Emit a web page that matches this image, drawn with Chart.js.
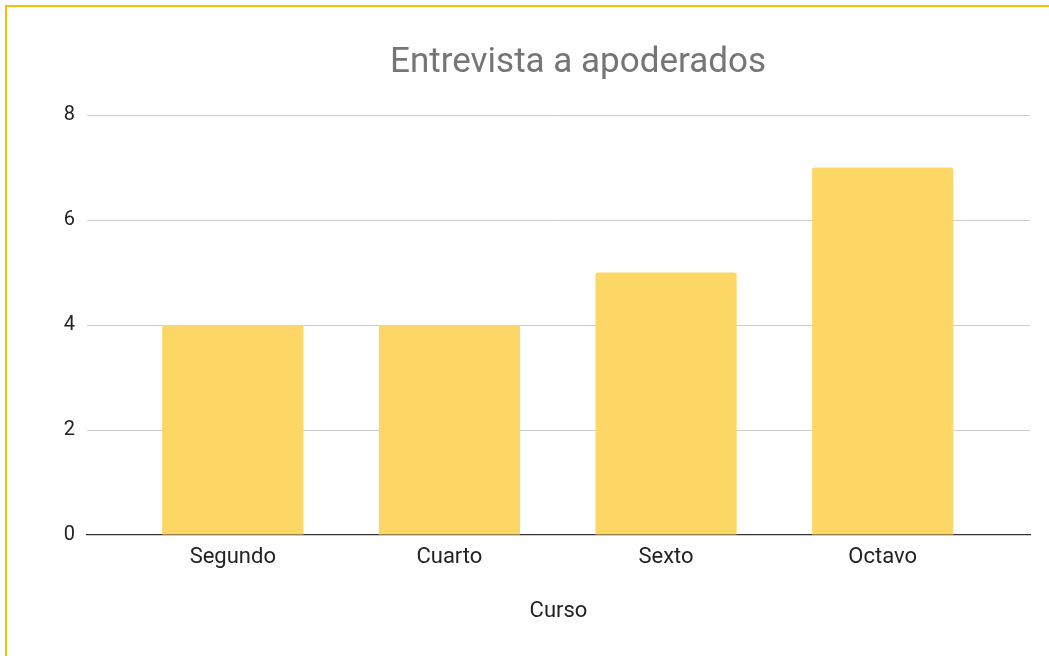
<!DOCTYPE html>
<html>
<head>
<meta charset="utf-8">
<script src="https://cdn.jsdelivr.net/npm/chart.js@4/dist/chart.umd.min.js"></script>
<style>
  html, body { margin: 0; padding: 0; background: #ffffff; overflow: hidden; width: 1049px; height: 656px; }
  #wrap { position: absolute; left: 0; top: 0; width: 1156px; height: 656px; }
  #frame { position: absolute; left: 5px; top: 5px; width: 2000px; height: 2000px; border: 2px solid #FBBC04; pointer-events: none; }
</style>
</head>
<body>
<div id="wrap"><canvas id="c"></canvas></div>
<div id="frame"></div>
<script>
const chartTitle = 'Entrevista a apoderados';
const xAxisTitle = 'Curso';
const categories = ['Segundo', 'Cuarto', 'Sexto', 'Octavo'];
const values = [4, 4, 5, 7];
const yTicks = [0, 2, 4, 6, 8];

const FONT = 'Roboto, "Liberation Sans", Arial, sans-serif';

new Chart(document.getElementById('c'), {
  type: 'bar',
  data: {
    datasets: [{
      data: values.map((v, i) => ({ x: i, y: v })),
      backgroundColor: '#FDD766',
      borderWidth: 0,
      borderRadius: { topLeft: 3, topRight: 3, bottomLeft: 0, bottomRight: 0 },
      borderSkipped: 'bottom',
      barPercentage: 0.652,
      categoryPercentage: 1.0,
      yAxisID: 'y'
    }]
  },
  options: {
    responsive: true,
    maintainAspectRatio: false,
    animation: false,
    layout: { padding: 0 },
    plugins: {
      legend: { display: false },
      tooltip: { enabled: false },
      title: {
        display: true,
        text: chartTitle,
        color: '#757575',
        font: { family: FONT, size: 35, weight: 'normal' },
        padding: { top: 42, bottom: 31 }
      }
    },
    scales: {
      x: {
        type: 'linear',
        offset: false,
        min: -0.673,
        max: 3.68,
        afterBuildTicks: (scale) => { scale.ticks = categories.map((_, i) => ({ value: i })); },
        afterFit: (scale) => { scale.height = 121; },
        ticks: {
          callback: (v) => categories[v],
          color: '#222222',
          font: { family: FONT, size: 22 },
          padding: 9,
          maxRotation: 0,
          autoSkip: false
        },
        grid: { display: false, drawTicks: false },
        border: { display: true, color: '#333333', width: 1.3 },
        title: {
          display: true,
          text: xAxisTitle,
          color: '#222222',
          font: { family: FONT, size: 22 },
          padding: { top: 20, bottom: 31 }
        }
      },
      y: {
        position: 'left',
        min: 0,
        max: 8,
        afterBuildTicks: (scale) => { scale.ticks = yTicks.map(v => ({ value: v })); },
        afterFit: (scale) => { scale.width = 87; },
        ticks: {
          color: '#222222',
          font: { family: FONT, size: 20 },
          padding: 12
        },
        grid: {
          drawTicks: false,
          color: (ctx) => ctx.tick && ctx.tick.value === 0 ? 'rgba(0,0,0,0)' : '#cccccc',
          lineWidth: 1
        },
        border: { display: false }
      },
      yRight: {
        type: 'linear',
        position: 'right',
        display: true,
        min: 0,
        max: 1,
        afterFit: (scale) => { scale.width = 126; },
        ticks: { display: false },
        grid: { display: false, drawTicks: false },
        border: { display: false }
      }
    }
  }
});
</script>
</body>
</html>
